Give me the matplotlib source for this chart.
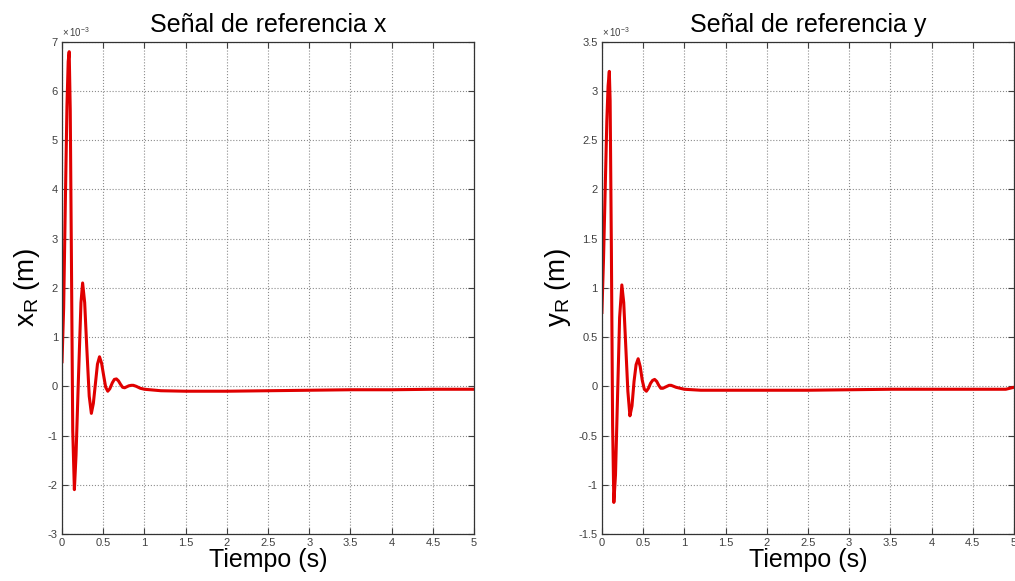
import matplotlib
matplotlib.use('Agg')
import matplotlib.pyplot as plt
from matplotlib.ticker import FuncFormatter

plt.rcParams['font.family'] = ['Liberation Sans', 'DejaVu Sans']
plt.rcParams['mathtext.fontset'] = 'custom'
plt.rcParams['mathtext.rm'] = 'Liberation Sans'

# referencia x (valores en unidades de 1e-3 m)
t_x = [0, 0.02, 0.04, 0.06, 0.075, 0.087, 0.1, 0.115, 0.13, 0.15, 0.17, 0.2,
       0.23, 0.25, 0.275, 0.3, 0.33, 0.356, 0.38, 0.405, 0.43, 0.455, 0.48,
       0.505, 0.53, 0.555, 0.58, 0.61, 0.635, 0.66, 0.685, 0.71, 0.735, 0.76,
       0.785, 0.81, 0.84, 0.865, 0.9, 0.95, 1.0, 1.2, 1.5, 2.0, 2.5, 3.0, 3.5,
       4.0, 4.5, 5.0]
x_R = [0.5, 1.6, 3.7, 5.7, 6.6, 6.8, 5.6, 2.4, -0.9, -2.1, -1.4, 0.2,
       1.7, 2.1, 1.7, 0.8, -0.2, -0.55, -0.35, 0.05, 0.45, 0.6, 0.47,
       0.22, -0.02, -0.1, -0.05, 0.07, 0.14, 0.15, 0.11, 0.04, -0.02, -0.03,
       -0.01, 0.01, 0.02, 0.02, 0.0, -0.04, -0.06, -0.09, -0.1, -0.1, -0.09, -0.08, -0.07,
       -0.07, -0.06, -0.06]

# referencia y (valores en unidades de 1e-3 m)
t_y = [0, 0.02, 0.04, 0.06, 0.075, 0.09, 0.1, 0.115, 0.13, 0.145, 0.165, 0.19,
       0.215, 0.242, 0.265, 0.29, 0.315, 0.34, 0.365, 0.39, 0.415, 0.44, 0.465,
       0.49, 0.515, 0.54, 0.565, 0.59, 0.615, 0.64, 0.665, 0.69, 0.715, 0.74,
       0.765, 0.79, 0.815, 0.84, 0.9, 0.95, 1.0, 1.2, 1.5, 2.0, 2.5, 3.0, 3.5,
       4.0, 4.5, 4.9, 5.0]
y_R = [0.75, 1.3, 2.0, 2.7, 3.05, 3.2, 2.9, 1.4, -0.4, -1.18, -0.9, -0.1,
       0.7, 1.03, 0.85, 0.4, -0.05, -0.3, -0.2, 0.05, 0.22, 0.28, 0.2,
       0.06, -0.03, -0.05, -0.02, 0.03, 0.06, 0.07, 0.05, 0.01, -0.02, -0.02,
       -0.01, 0.0, 0.01, 0.01, -0.01, -0.02, -0.03, -0.04, -0.04, -0.04, -0.04, -0.035, -0.03,
       -0.03, -0.03, -0.03, -0.01]

x_ticks = [0, 0.5, 1, 1.5, 2, 2.5, 3, 3.5, 4, 4.5, 5]
yx_ticks = [-3, -2, -1, 0, 1, 2, 3, 4, 5, 6, 7]
yy_ticks = [-1.5, -1, -0.5, 0, 0.5, 1, 1.5, 2, 2.5, 3, 3.5]

fig = plt.figure(figsize=(10.15, 5.81), dpi=100)
ax1 = fig.add_axes([0.0611, 0.081, 0.406, 0.847])
ax2 = fig.add_axes([0.593, 0.081, 0.406, 0.847])

gfmt = FuncFormatter(lambda v, p: '%g' % v)

def style(ax, t, v, yticks, title, ylabel):
    ax.plot(t, v, color='#e00000', lw=2.2)
    ax.set_xlim(0, 5)
    ax.set_ylim(yticks[0], yticks[-1])
    ax.set_xticks(x_ticks)
    ax.set_yticks(yticks)
    ax.xaxis.set_major_formatter(gfmt)
    ax.yaxis.set_major_formatter(gfmt)
    ax.grid(True, linestyle=':', color='#8c8c8c', lw=0.8)
    ax.tick_params(direction='in', length=4, width=0.8, labelsize=8,
                   colors='#404040', top=True, right=True, pad=3)
    for s in ax.spines.values():
        s.set_color('#333333')
        s.set_linewidth(0.9)
    ax.set_title(title, fontsize=18, pad=7)
    ax.set_xlabel('Tiempo (s)', fontsize=18, labelpad=0)
    ax.set_ylabel(ylabel, fontsize=20, labelpad=4)
    ax.text(0.0, 1.005, r'$\times\,10^{-3}$', transform=ax.transAxes,
            fontsize=7, color='#404040', ha='left', va='bottom')

style(ax1, t_x, x_R, yx_ticks, 'Señal de referencia x', r'x$_{\mathregular{R}}$ (m)')
style(ax2, t_y, y_R, yy_ticks, 'Señal de referencia y', r'y$_{\mathregular{R}}$ (m)')

fig.savefig('out.png', dpi=100)
